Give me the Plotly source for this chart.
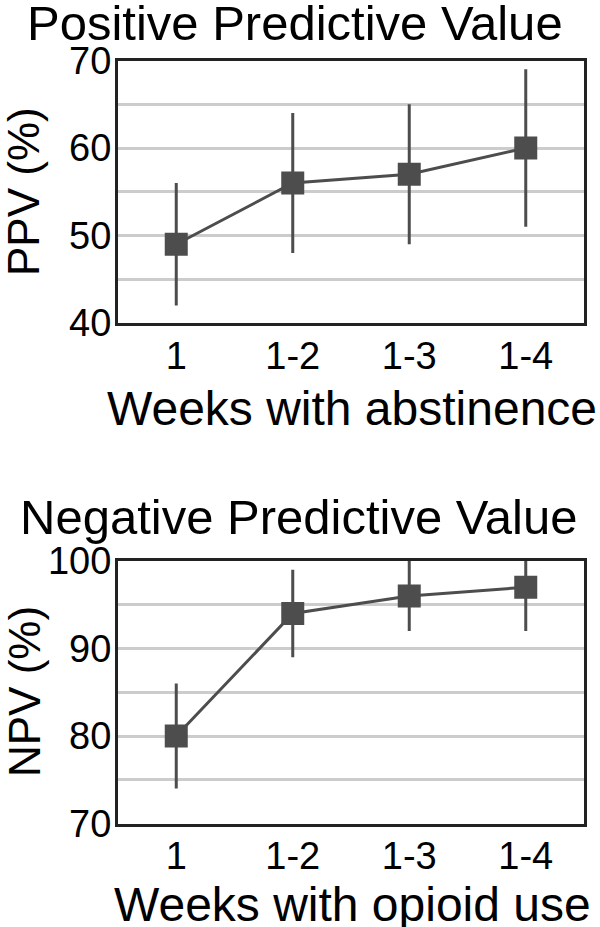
import plotly.graph_objects as go

categories = ["1", "1-2", "1-3", "1-4"]
ppv = [49, 56, 57, 60]
ppv_low = [42, 48, 49, 51]
ppv_high = [56, 64, 65, 69]
npv = [80, 94, 96, 97]
npv_low = [74, 89, 92, 92]
npv_high = [86, 99, 100, 100]

DARK = "#4d4d4d"
FONT = "Liberation Sans, Arial, sans-serif"

fig = go.Figure()

def add_series(vals, lo, hi, xa, ya):
    fig.add_trace(go.Scatter(
        x=categories, y=vals, xaxis=xa, yaxis=ya, mode="lines+markers",
        line=dict(color=DARK, width=3),
        marker=dict(symbol="square", size=23, color=DARK),
        error_y=dict(type="data", symmetric=False,
                     array=[h - v for h, v in zip(hi, vals)],
                     arrayminus=[v - l for v, l in zip(vals, lo)],
                     color=DARK, thickness=3, width=0),
        showlegend=False, cliponaxis=True, hoverinfo="skip",
    ))

add_series(ppv, ppv_low, ppv_high, "x", "y")
add_series(npv, npv_low, npv_high, "x2", "y2")

W, H = 600, 927
xdom = [118 / W, 584 / W]
top_dom = [(H - 323) / H, (H - 60.5) / H]
bot_dom = [(H - 823.5) / H, (H - 561) / H]

axis_common = dict(showline=True, mirror=True, linecolor="#222222", linewidth=3,
                   automargin=False, fixedrange=True,
                   tickfont=dict(family=FONT, size=38, color="#000"), zeroline=False)

fig.update_layout(
    template="none",
    width=W, height=H, margin=dict(l=0, r=0, t=0, b=0, pad=0),
    paper_bgcolor="white", plot_bgcolor="white",
    font=dict(family=FONT, color="#000"),
    xaxis=dict(domain=xdom, anchor="y", type="category", range=[-0.5, 3.5],
               showgrid=False, ticks="", ticklabelstandoff=-3, **axis_common),
    yaxis=dict(domain=top_dom, anchor="x", range=[40, 70],
               tickvals=[40, 45, 50, 55, 60, 65, 70],
               ticktext=["40", "", "50", "", "60", "", "70"],
               showgrid=True, gridcolor="#cccccc", gridwidth=3, ticks="",
               ticklabelstandoff=-4, **axis_common),
    xaxis2=dict(domain=xdom, anchor="y2", type="category", range=[-0.5, 3.5],
                showgrid=False, ticks="", ticklabelstandoff=-3, **axis_common),
    yaxis2=dict(domain=bot_dom, anchor="x2", range=[70, 100],
                tickvals=[70, 75, 80, 85, 90, 95, 100],
                ticktext=["70", "", "80", "", "90", "", "100"],
                showgrid=True, gridcolor="#cccccc", gridwidth=3, ticks="",
                ticklabelstandoff=-4, **axis_common),
)

def ann(text, x, y, size, angle=0):
    fig.add_annotation(text=text, x=x / W, y=1 - y / H, xref="paper", yref="paper",
                       showarrow=False, textangle=angle, xanchor="center", yanchor="middle",
                       font=dict(family=FONT, size=size, color="#000"))

ann("Positive Predictive Value", 295, 23, 49)
ann("PPV (%)", 24, 192, 44, -90)
ann("Weeks with abstinence", 352, 408, 48)
ann("Negative Predictive Value", 298, 517, 49)
ann("NPV (%)", 24, 692, 44, -90)
ann("Weeks with opioid use", 352, 904, 48)

fig.write_html("out.html", config={"displayModeBar": False},
               post_script="document.body.style.margin='0';")
